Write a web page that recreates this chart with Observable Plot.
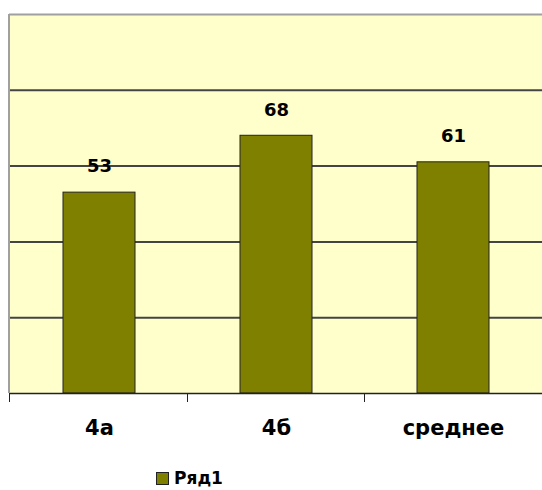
<!DOCTYPE html>
<html><head><meta charset="utf-8">
<script src="https://cdn.jsdelivr.net/npm/d3@7"></script>
<script src="https://cdn.jsdelivr.net/npm/@observablehq/plot@0.6"></script>
<style>
body{margin:0;background:#fff;font-family:"DejaVu Sans",sans-serif;}
#legend{display:flex;align-items:center;height:22px;margin-top:7px;padding-left:156px;font-weight:bold;font-size:17px;color:#000;}
#legend .sw{display:inline-block;width:11px;height:11px;background:#808000;border:1px solid #222;margin-right:5px;}
</style></head><body>
<div id="chart"></div>
<div id="legend"><span class="sw"></span><span id="legtext"></span></div>
<script>
const categories = ["4а", "4б", "среднее"];
const values = [53, 68, 61];
const seriesName = "Ряд1";
const yTicks = [20, 40, 60, 80];
const yMax = 100;

const data = categories.map((c, i) => ({cat: c, value: values[i]}));
document.getElementById("legtext").textContent = seriesName;

function bandTicks(index, scales, vals, dims) {
  const g = d3.create("svg:g");
  const left = dims.marginLeft, right = dims.width - dims.marginRight;
  const top = dims.marginTop, y0 = dims.height - dims.marginBottom;
  const n = categories.length;
  for (let i = 0; i <= n; i++) {
    const x = Math.round(left + (right - left) * i / n) + 0.5;
    g.append("line").attr("x1", x).attr("x2", x).attr("y1", y0).attr("y2", y0 + 9)
      .attr("stroke", "#222").attr("stroke-width", 1);
  }
  g.append("line").attr("x1", left).attr("x2", left).attr("y1", top).attr("y2", y0)
    .attr("stroke", "#a0a0a0").attr("stroke-width", 2);
  return g.node();
}

const chart = Plot.plot({
  width: 542,
  height: 460,
  marginLeft: 9,
  marginRight: 0,
  marginTop: 14,
  marginBottom: 67,
  style: {fontFamily: "DejaVu Sans", background: "transparent"},
  x: {domain: categories, paddingInner: 0.5955, paddingOuter: 0.29775, label: null},
  y: {domain: [0, yMax], axis: null},
  marks: [
    Plot.frame({fill: "#FFFFCC", stroke: null}),
    Plot.ruleY(yTicks, {stroke: "#444", strokeWidth: 2}),
    Plot.ruleY([yMax], {stroke: "#a0a0a0", strokeWidth: 2}),
    Plot.barY(data, {x: "cat", y: "value", fill: "#808000", stroke: "#222", strokeWidth: 1}),
    Plot.ruleY([0], {stroke: "#222", strokeWidth: 1.5}),
    Plot.text(data, {x: "cat", y: "value", text: d => String(d.value), dy: -26, fontSize: 18, fontWeight: "bold", fill: "#000"}),
    bandTicks,
    Plot.axisX({tickSize: 0, tickPadding: 27, fontSize: 21, fontWeight: "bold", fill: "#000", label: null})
  ]
});
document.getElementById("chart").appendChild(chart);
</script>
</body></html>
